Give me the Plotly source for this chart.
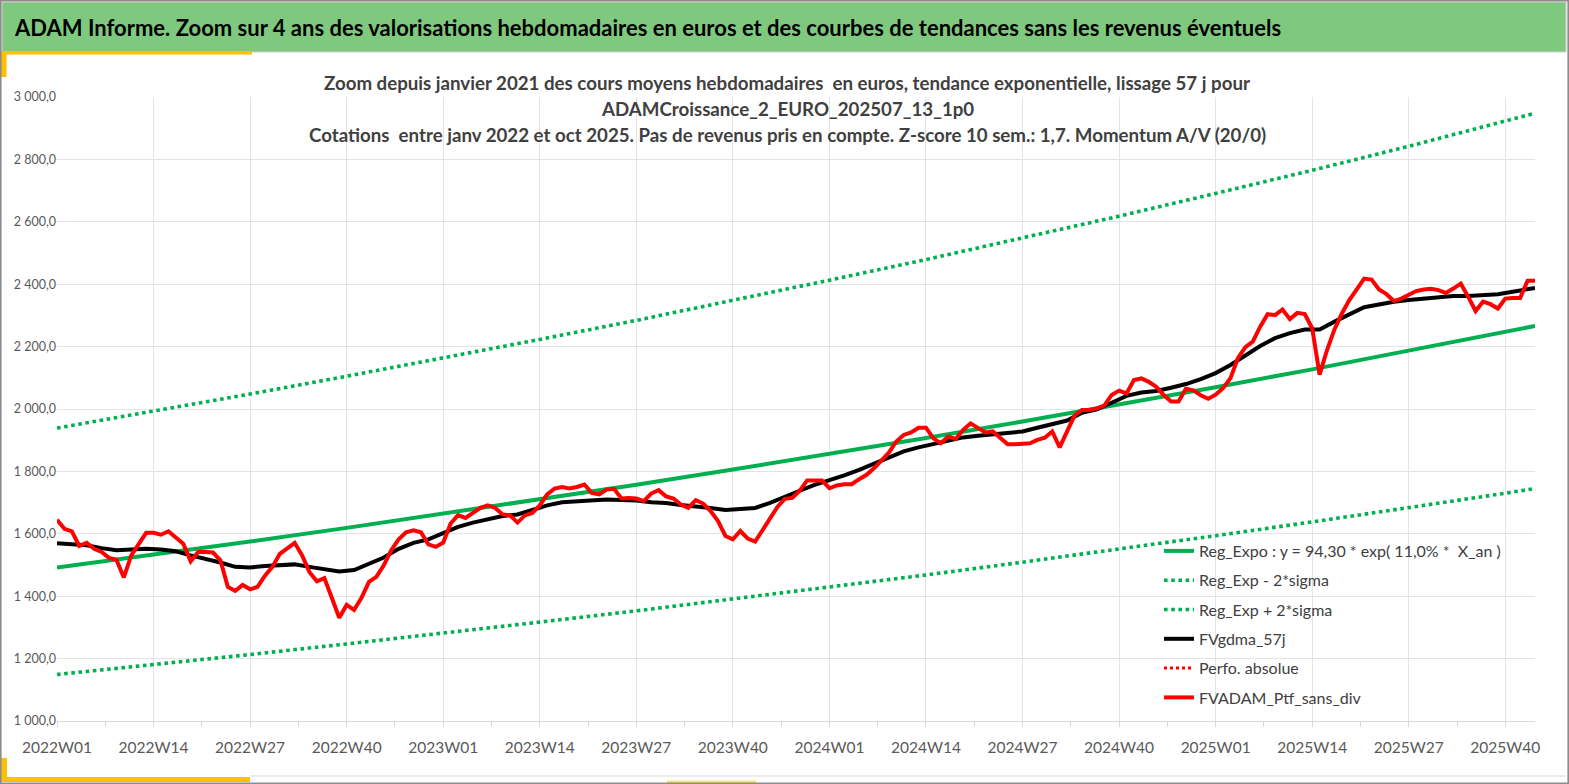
import plotly.graph_objects as go

# axes
tick_labels = ["2022W01", "2022W14", "2022W27", "2022W40",
               "2023W01", "2023W14", "2023W27", "2023W40",
               "2024W01", "2024W14", "2024W27", "2024W40",
               "2025W01", "2025W14", "2025W27", "2025W40"]
tick_weeks = [0, 13, 26, 39, 52, 65, 78, 91, 104, 117, 130, 143, 156, 169, 182, 195]

# FVADAM_Ptf_sans_div, one value per week from 2022W01
fv_adam = [1645, 1616, 1608, 1561, 1571, 1552, 1542, 1523, 1517, 1460,
           1531, 1568, 1603, 1603, 1597, 1608, 1589, 1568, 1512, 1542,
           1542, 1540, 1515, 1430, 1417, 1436, 1422, 1430, 1466, 1494,
           1536, 1552, 1571, 1531, 1477, 1448, 1458, 1395, 1331, 1372,
           1356, 1395, 1446, 1462, 1499, 1547, 1582, 1605, 1611, 1605,
           1566, 1558, 1572, 1633, 1660, 1651, 1667, 1683, 1691, 1683,
           1662, 1659, 1636, 1659, 1667, 1691, 1726, 1745, 1750, 1745,
           1750, 1758, 1731, 1726, 1742, 1744, 1713, 1715, 1713, 1705,
           1729, 1740, 1720, 1713, 1694, 1683, 1708, 1697, 1673, 1641,
           1593, 1582, 1609, 1585, 1575, 1614, 1648, 1686, 1712, 1715,
           1738, 1771, 1771, 1771, 1746, 1755, 1759, 1759, 1775, 1789,
           1810, 1837, 1860, 1896, 1917, 1925, 1940, 1940, 1906, 1890,
           1912, 1904, 1933, 1954, 1941, 1925, 1928, 1906, 1887, 1887,
           1887, 1890, 1901, 1908, 1928, 1877, 1928, 1979, 1997, 1997,
           2002, 2011, 2045, 2059, 2050, 2093, 2098, 2087, 2071, 2045,
           2024, 2024, 2065, 2060, 2044, 2033, 2046, 2067, 2099, 2163,
           2198, 2216, 2264, 2304, 2301, 2319, 2288, 2308, 2304, 2259,
           2110, 2189, 2255, 2306, 2349, 2386, 2418, 2415, 2383, 2368,
           2346, 2354, 2365, 2378, 2383, 2385, 2381, 2372, 2386, 2402,
           2360, 2314, 2344, 2336, 2322, 2354, 2356, 2356, 2411, 2411]

# FVgdma_57j, read every second week
gdma_weeks = list(range(0, 200, 2)) + [199]
fv_gdma = [1570, 1566, 1563, 1554, 1547, 1550, 1552, 1550, 1544, 1531,
           1520, 1508, 1494, 1492, 1497, 1500, 1502, 1494, 1485, 1479,
           1484, 1503, 1524, 1552, 1571, 1582, 1602, 1622, 1636, 1648,
           1657, 1662, 1676, 1691, 1701, 1704, 1708, 1710, 1708, 1707,
           1701, 1699, 1692, 1689, 1683, 1676, 1678, 1683, 1699, 1720,
           1738, 1757, 1771, 1787, 1805, 1824, 1844, 1864, 1877, 1887,
           1898, 1909, 1914, 1919, 1922, 1928, 1940, 1952, 1963, 1988,
           1999, 2020, 2042, 2053, 2058, 2068, 2080, 2096, 2115, 2141,
           2173, 2202, 2227, 2243, 2255, 2255, 2280, 2304, 2326, 2335,
           2344, 2349, 2354, 2357, 2362, 2362, 2365, 2368, 2376, 2383,
           2388]

# trend and bands, read at each tick and at the last week
trend_weeks = tick_weeks + [199]
reg_expo = [1492, 1533, 1575, 1619, 1664, 1710, 1757, 1806, 1856, 1907,
            1960, 2014, 2070, 2127, 2186, 2247, 2266]
reg_plus = [1939, 1993, 2048, 2105, 2163, 2223, 2284, 2348, 2413, 2479,
            2548, 2618, 2691, 2765, 2842, 2921, 2948]
reg_minus = [1149, 1180, 1213, 1247, 1281, 1317, 1353, 1391, 1429, 1468,
             1509, 1551, 1594, 1638, 1683, 1730, 1745]

GREEN = '#00B050'
TXT = '#404040'
GOLD = '#FFC000'

fig = go.Figure()
fig.add_trace(go.Scatter(x=trend_weeks, y=reg_expo, mode='lines',
                         line=dict(color=GREEN, width=4),
                         name='Reg_Expo : y = 94,30 * exp( 11,0% *  X_an )',
                         legendgroup='a'))
fig.add_trace(go.Scatter(x=trend_weeks, y=reg_minus, mode='lines',
                         line=dict(color=GREEN, width=3.6, dash='dot'),
                         name='Reg_Exp - 2*sigma', legendgroup='b'))
fig.add_trace(go.Scatter(x=trend_weeks, y=reg_plus, mode='lines',
                         line=dict(color=GREEN, width=3.6, dash='dot'),
                         name='Reg_Exp + 2*sigma', legendgroup='c'))
fig.add_trace(go.Scatter(x=gdma_weeks, y=fv_gdma, mode='lines',
                         line=dict(color='black', width=4),
                         name='FVgdma_57j', legendgroup='d'))
fig.add_trace(go.Scatter(x=[None], y=[None], mode='lines',
                         line=dict(color='#FF0000', width=3, dash='dot'),
                         name='Perfo. absolue', legendgroup='e'))
fig.add_trace(go.Scatter(x=list(range(len(fv_adam))), y=fv_adam, mode='lines',
                         line=dict(color='#FF0000', width=4),
                         name='FVADAM_Ptf_sans_div', legendgroup='f'))

# page decorations, in pixel terms of a 1569x784 page
L, R, T, B = 57, 1535, 97, 721
def px(x):
    return (x - L) / (R - L)
def py(y):
    return (B - y) / (B - T)

shapes = [
    dict(type='rect', x0=px(2), x1=px(1566), y0=py(52), y1=py(2),
         fillcolor='#7FC97F', line=dict(color='#D0D0D0', width=1)),
    dict(type='rect', x0=px(0), x1=px(252), y0=py(54.5), y1=py(51.5),
         fillcolor=GOLD, line=dict(width=0)),
    dict(type='rect', x0=px(1), x1=px(6.5), y0=py(77), y1=py(52),
         fillcolor=GOLD, line=dict(width=0)),
    dict(type='line', x0=px(250), x1=px(1566), y0=py(776), y1=py(776),
         line=dict(color='#E6E6E6', width=1.5)),
    dict(type='rect', x0=px(1), x1=px(250), y0=py(782), y1=py(777),
         fillcolor=GOLD, line=dict(width=0)),
    dict(type='rect', x0=px(1), x1=px(7), y0=py(782), y1=py(758),
         fillcolor=GOLD, line=dict(width=0)),
    dict(type='rect', x0=px(667), x1=px(756), y0=py(783), y1=py(780.5),
         fillcolor='#F3E27A', line=dict(width=0)),
    dict(type='rect', x0=px(0.8), x1=px(1568.2), y0=py(783.2), y1=py(0.8),
         line=dict(color='#8C8C8C', width=1.6)),
]
for s in shapes:
    s.update(xref='paper', yref='paper', layer='below' if s.get('fillcolor') == '#7FC97F' else 'above')

title_lines = [
    'Zoom depuis janvier 2021 des cours moyens hebdomadaires  en euros, tendance exponentielle, lissage 57 j pour',
    'ADAMCroissance_2_EURO_202507_13_1p0',
    'Cotations  entre janv 2022 et oct 2025. Pas de revenus pris en compte. Z-score 10 sem.: 1,7. Momentum A/V (20/0)',
]
annotations = [dict(text='ADAM Informe. Zoom sur 4 ans des valorisations hebdomadaires en euros et des courbes de tendances sans les revenus éventuels',
                    x=px(12), y=py(28), xref='paper', yref='paper', xanchor='left', yanchor='middle',
                    showarrow=False, font=dict(family='Lato', size=22, color='black', weight='bold'))]
for i, t in enumerate(title_lines):
    annotations.append(dict(text=t, x=px(787), y=py(83 + 26 * i), xref='paper', yref='paper',
                            xanchor='center', yanchor='middle', showarrow=False,
                            font=dict(family='Lato', size=18.7, color=TXT, weight='bold')))

fig.update_layout(
    width=1569, height=784, autosize=False,
    margin=dict(l=L, r=1569 - R, t=T, b=784 - B),
    paper_bgcolor='white', plot_bgcolor='white',
    separators=', ',
    font=dict(family='Lato', color='#595959'),
    shapes=shapes, annotations=annotations,
    showlegend=True,
    legend=dict(x=px(1159), y=py(534), xanchor='left', yanchor='top',
                bgcolor='rgba(0,0,0,0)', traceorder='grouped', tracegroupgap=5.5,
                font=dict(family='Lato', size=16, color=TXT)),
    xaxis=dict(range=[0, 199], tickvals=tick_weeks, ticktext=tick_labels,
               showgrid=True, gridcolor='#E1E4EA', gridwidth=1,
               showline=True, linecolor='#D9D9D9', zeroline=False,
               ticks='', ticklabelstandoff=12,
               tickfont=dict(family='Lato', size=15.5, color='#595959'),
               minor=dict(dtick=6.5, tick0=0, ticks='outside', ticklen=5,
                          tickcolor='#D9D9D9', showgrid=False)),
    yaxis=dict(range=[1000, 3000], dtick=200, tickformat=',.1f',
               showgrid=True, gridcolor='#E1E4EA', gridwidth=1,
               zeroline=False, showline=False, ticks='',
               tickfont=dict(family='Lato', size=12.5, color='#595959')),
)

fig.write_html("out.html", config={'displayModeBar': False},
               post_script="document.body.style.margin='0';")
